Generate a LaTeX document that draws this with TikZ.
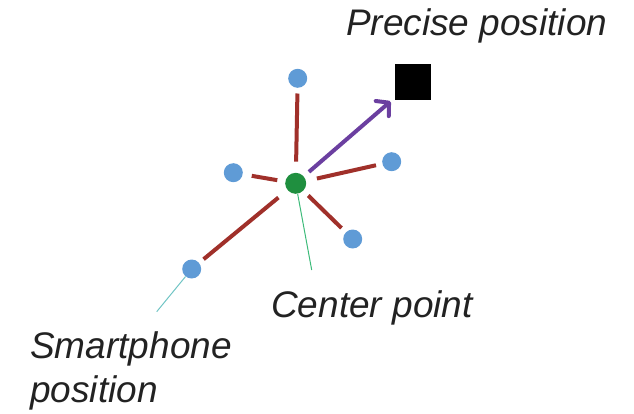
\documentclass[tikz,border=0pt]{standalone}
\usepackage{fontspec}
\setmainfont{Liberation Sans}
\usetikzlibrary{arrows.meta}
\definecolor{dotblue}{HTML}{5F9BD6}
\definecolor{ctrgreen}{HTML}{1F8F3F}
\definecolor{linkred}{HTML}{A0302A}
\definecolor{arrowpurple}{HTML}{6B3FA0}
\definecolor{leadgreen}{HTML}{3DBB7A}
\definecolor{leadteal}{HTML}{70C4C4}
\definecolor{textgray}{HTML}{222222}
\begin{document}
\begin{tikzpicture}[x=1pt,y=-1pt,
  phone/.style={circle,fill=dotblue,minimum size=19pt,inner sep=0pt},
  center/.style={circle,fill=ctrgreen,minimum size=21pt,inner sep=0pt},
  target/.style={rectangle,fill=black,minimum size=36pt,inner sep=0pt},
  link/.style={draw=linkred,line width=4pt},
  lead/.style={line width=1pt},
  lbl/.style={font=\fontsize{37}{44}\selectfont\itshape,inner sep=0pt,text=textgray}]
\useasboundingbox (0,0) rectangle (634,413);
% nodes
\node[center] (c) at (295.7,183.3) {};
\node[phone] (p1) at (297.7,78.3) {};
\node[phone] (p2) at (233.3,172.7) {};
\node[phone] (p3) at (391.7,161.7) {};
\node[phone] (p4) at (352.7,239) {};
\node[phone] (p5) at (191.7,269) {};
\node[target] (sq) at (413,82) {};
% links
\draw[link,shorten <=11pt,shorten >=5.5pt] (c) -- (p1);
\draw[link,shorten <=8pt,shorten >=9pt] (c) -- (p2);
\draw[link,shorten <=11pt,shorten >=6.4pt] (c) -- (p3);
\draw[link,shorten <=6.8pt,shorten >=6pt] (c) -- (p4);
\draw[link,shorten <=11.7pt,shorten >=5.7pt] (c) -- (p5);
% arrow
\draw[draw=arrowpurple,line width=4pt,shorten <=6.8pt,shorten >=5.6pt,
  -{Straight Barb[length=9pt,width=20pt,line cap=round,line join=round]}] (c) -- (sq);
% labels
\node[lbl,anchor=base west] (tp) at (346,35) {Precise position};
\node[lbl,anchor=base west] (tc) at (271,317) {Center point};
\node[lbl,anchor=north west,align=left] (ts) at (30,331) {Smartphone\\position};
% leader lines
\coordinate (lc) at (311.7,270);
\coordinate (ls) at (156.7,311.7);
\draw[lead,draw=leadgreen] (c) -- (lc);
\draw[lead,draw=leadteal] (p5) -- (ls);
\end{tikzpicture}
\end{document}
